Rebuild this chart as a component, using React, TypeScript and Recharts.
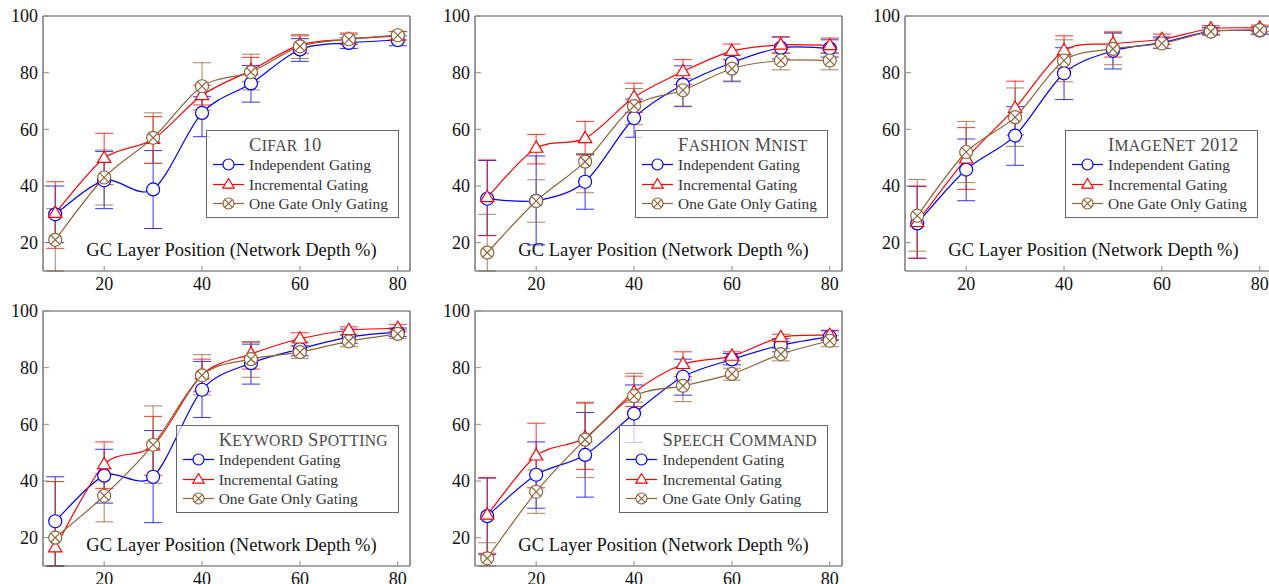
import React from 'react';
import { LineChart, Line, XAxis, YAxis, ErrorBar } from 'recharts';

const FONT = '"Liberation Serif", "Times New Roman", serif';
const BLUE = '#0000ff';
const RED = '#ff0000';
const BROWN = '#8f6439';
const FRAME = '#555555';
const TICK = '#8a8a8a';

const xValues = [10, 20, 30, 40, 50, 60, 70, 80];
const xTicks = [20, 40, 60, 80];
const yTicks = [20, 40, 60, 80, 100];
const yMinorTicks = [12, 16, 24, 28, 32, 36, 44, 48, 52, 56, 64, 68, 72, 76, 84, 88, 92, 96];
const seriesNames = ['Independent Gating', 'Incremental Gating', 'One Gate Only Gating'];
const panelTitles = ['Cifar 10', 'Fashion Mnist', 'ImageNet 2012', 'Keyword Spotting', 'Speech Command'];
const axisTitle = 'GC Layer Position (Network Depth %)';

// Cifar 10
const cifarIndep = [30, 42, 38.8, 65.8, 76.2, 88.2, 90.5, 91.5];
const cifarIndepLo = [20, 32, 25, 57.4, 69.6, 84, 88.5, 89.5];
const cifarIndepHi = [40, 52.2, 52.5, 71.5, 82.5, 92, 92.3, 93];
const cifarIncr = [30.4, 49.8, 56.5, 72, 80.8, 89.8, 91.8, 93];
const cifarIncrLo = [18, 40.5, 48, 68.6, 76.8, 86.8, 90, 91.5];
const cifarIncrHi = [41.5, 58.6, 64.5, 75.6, 85.4, 93, 94, 94.5];
const cifarGate = [21, 43, 57, 75.2, 80.2, 89.3, 91.8, 93.2];
const cifarGateLo = [5, 33.3, 48, 66.8, 73.9, 85, 90, 91.6];
const cifarGateHi = [32, 52.7, 65.8, 83.5, 86.5, 93.5, 93.5, 94.5];

// Fashion Mnist
const fashionIndep = [35.5, 34.8, 41.5, 64, 75.8, 83.5, 88.8, 88.6];
const fashionIndepLo = [22.5, 19.2, 31.8, 57.2, 68, 77, 84.8, 85.5];
const fashionIndepHi = [49, 50.6, 51, 70.7, 82.4, 86.2, 92.6, 91.6];
const fashionIncr = [36, 53.4, 56.8, 71.3, 80.4, 87.6, 89.8, 89.6];
const fashionIncrLo = [22.5, 47.8, 51.2, 66, 75.8, 84.5, 87, 87];
const fashionIncrHi = [49.2, 58.2, 62.8, 76.3, 84.6, 90.1, 92.6, 92.2];
const fashionGate = [16.5, 34.7, 48.6, 68.2, 73.8, 81.4, 84.3, 84.3];
const fashionGateLo = [8, 27.2, 37.6, 61.6, 68.2, 76.8, 81, 81];
const fashionGateHi = [30, 42.2, 51.4, 74.4, 78, 84.8, 86.8, 86.8];

// ImageNet 2012
const imagenetIndep = [26.8, 45.8, 57.8, 79.8, 87.7, 90.6, 94.6, 94.9];
const imagenetIndepLo = [14.5, 34.8, 47.3, 70.5, 81.3, 88.6, 93.4, 93.6];
const imagenetIndepHi = [39.8, 56.6, 68, 88.8, 94, 92.6, 96, 96.2];
const imagenetIncr = [27.2, 49.6, 67.5, 87.8, 90.2, 91.8, 95.5, 95.8];
const imagenetIncrLo = [14.5, 38.8, 58, 81.6, 85.5, 90, 94.4, 94.6];
const imagenetIncrHi = [40, 60.6, 77, 93, 94.4, 93.6, 96.6, 96.8];
const imagenetGate = [29.5, 52, 64.3, 84.3, 88.4, 90.3, 94.5, 95];
const imagenetGateLo = [17, 41.2, 54, 76.8, 82.8, 88.5, 93.2, 93.6];
const imagenetGateHi = [42.3, 62.8, 74.6, 91.6, 94, 92.2, 95.8, 96.2];

// Keyword Spotting
const keywordIndep = [25.8, 41.9, 41.5, 72.2, 81.6, 86.6, 90.8, 92.5];
const keywordIndepLo = [9.8, 32.2, 25.3, 62.4, 74.2, 84.2, 88.6, 91];
const keywordIndepHi = [41.5, 51.2, 57.8, 82.2, 88.3, 89, 93.6, 94];
const keywordIncr = [16.5, 45.8, 52.5, 77.5, 84.8, 90.2, 93.2, 93.9];
const keywordIncrLo = [6, 37.4, 42, 71.5, 79.5, 87.8, 91.6, 92.8];
const keywordIncrHi = [39.8, 53.8, 62.8, 83, 89, 92.3, 94.4, 95.3];
const keywordGate = [20, 34.8, 52.8, 77.3, 83, 85.5, 89.3, 91.9];
const keywordGateLo = [6, 25.6, 39.2, 70.4, 76.6, 83.3, 87.4, 90.3];
const keywordGateHi = [39.8, 42.6, 66.5, 84.6, 89.2, 87.5, 91.4, 93.5];

// Speech Command
const speechIndep = [27.6, 42.2, 49.2, 63.8, 76.8, 82.9, 87.9, 90.9];
const speechIndepLo = [14, 30.4, 34.3, 53.6, 70.3, 81, 85.6, 89.6];
const speechIndepHi = [41, 53.8, 64.2, 73.9, 83, 85, 90.2, 93.2];
const speechIncr = [28, 48.9, 55.3, 71.3, 81.2, 84.1, 90.7, 91.5];
const speechIncrLo = [14.5, 37.6, 44.1, 66.3, 76.8, 82.6, 89.2, 89.8];
const speechIncrHi = [41.2, 60.4, 67.5, 77, 85.6, 85.6, 91.8, 93];
const speechGate = [12.7, 36.2, 54.6, 70, 73.6, 77.8, 84.8, 89.5];
const speechGateLo = [6, 28.6, 41.2, 67.8, 68, 75.6, 82.4, 87.4];
const speechGateHi = [18.2, 43.9, 67.8, 78, 75.6, 79.8, 86.8, 91.3];

const panelSeries = [
  [[cifarIndep, cifarIndepLo, cifarIndepHi], [cifarIncr, cifarIncrLo, cifarIncrHi], [cifarGate, cifarGateLo, cifarGateHi]],
  [[fashionIndep, fashionIndepLo, fashionIndepHi], [fashionIncr, fashionIncrLo, fashionIncrHi], [fashionGate, fashionGateLo, fashionGateHi]],
  [[imagenetIndep, imagenetIndepLo, imagenetIndepHi], [imagenetIncr, imagenetIncrLo, imagenetIncrHi], [imagenetGate, imagenetGateLo, imagenetGateHi]],
  [[keywordIndep, keywordIndepLo, keywordIndepHi], [keywordIncr, keywordIncrLo, keywordIncrHi], [keywordGate, keywordGateLo, keywordGateHi]],
  [[speechIndep, speechIndepLo, speechIndepHi], [speechIncr, speechIncrLo, speechIncrHi], [speechGate, speechGateLo, speechGateHi]],
];

const seriesColors = [BLUE, RED, BROWN];
const seriesMarks = ['circle', 'triangle', 'otimes'];

// layout
const CW = 420;
const CH = 295;
const PLOT_L = 43;
const PLOT_R_MARGIN = 10;
const PLOT_T = 16;
const XAXIS_H = 24;
const X_DOMAIN = [7.5, 82.5];
const Y_DOMAIN = [10, 100];
const panelPos = [
  { left: 0, top: 0 },
  { left: 432, top: 0 },
  { left: 862, top: 0 },
  { left: 0, top: 295 },
  { left: 432, top: 295 },
];
const legendRightGap = [11, 14, 14, 11, 14];

// cardinal spline like TikZ "smooth" (tension 0.55)
const makeCardinal = (k: number) => (context: any) => {
  let pts: number[][] = [];
  return {
    areaStart() {},
    areaEnd() {},
    lineStart() {
      pts = [];
    },
    point(x: number, y: number) {
      pts.push([+x, +y]);
    },
    lineEnd() {
      const n = pts.length;
      if (!n) return;
      context.moveTo(pts[0][0], pts[0][1]);
      for (let i = 0; i < n - 1; i++) {
        const p0 = pts[Math.max(i - 1, 0)];
        const p1 = pts[i];
        const p2 = pts[i + 1];
        const p3 = pts[Math.min(i + 2, n - 1)];
        context.bezierCurveTo(
          p1[0] + (p2[0] - p0[0]) * k,
          p1[1] + (p2[1] - p0[1]) * k,
          p2[0] - (p3[0] - p1[0]) * k,
          p2[1] - (p3[1] - p1[1]) * k,
          p2[0],
          p2[1]
        );
      }
    },
  };
};
const smoothCurve = makeCardinal(0.15);

function Marker({ kind, color, cx, cy, r }: { kind: string; color: string; cx: number; cy: number; r: number }) {
  if (kind === 'circle') {
    return <circle cx={cx} cy={cy} r={r} fill="#fff" stroke={color} strokeWidth={1.2} />;
  }
  if (kind === 'triangle') {
    const h = r * 1.08;
    const pts = `${cx},${cy - h} ${cx - h * 0.95},${cy + h * 0.6} ${cx + h * 0.95},${cy + h * 0.6}`;
    return <polygon points={pts} fill="#fff" stroke={color} strokeWidth={1.2} />;
  }
  const d = r * 0.7071;
  return (
    <g>
      <circle cx={cx} cy={cy} r={r} fill="#fff" stroke={color} strokeWidth={1.2} />
      <line x1={cx - d} y1={cy - d} x2={cx + d} y2={cy + d} stroke={color} strokeWidth={1.2} />
      <line x1={cx - d} y1={cy + d} x2={cx + d} y2={cy - d} stroke={color} strokeWidth={1.2} />
    </g>
  );
}

function buildRows(series: number[][][]) {
  return xValues.map((x, i) => {
    const row: any = { x };
    series.forEach((s, si) => {
      const [mean, lo, hi] = s;
      // error bars are clipped to the visible plot range, as in the original figure
      const shownLo = Math.max(lo[i], Y_DOMAIN[0]);
      const shownHi = Math.min(hi[i], Y_DOMAIN[1]);
      row[`v${si}`] = mean[i];
      row[`e${si}`] = [mean[i] - shownLo, shownHi - mean[i]];
    });
    return row;
  });
}

// LaTeX-like small caps: upper-case letters and digits full size, lower-case letters as smaller capitals
function SmallCaps({ text }: { text: string }) {
  const parts: { t: string; small: boolean }[] = [];
  for (const ch of text) {
    const small = ch !== ch.toUpperCase();
    const last = parts[parts.length - 1];
    if (last && last.small === small) last.t += small ? ch.toUpperCase() : ch;
    else parts.push({ t: small ? ch.toUpperCase() : ch, small });
  }
  return (
    <>
      {parts.map((p, i) => (
        <span key={i} style={{ fontSize: p.small ? '0.85em' : '1em' }}>
          {p.t}
        </span>
      ))}
    </>
  );
}

function Legend({ title, rightGap }: { title: string; rightGap: number }) {
  return (
    <div
      style={{
        position: 'absolute',
        top: PLOT_T + 114,
        right: PLOT_R_MARGIN + rightGap,
        border: '1px solid #666',
        background: 'rgba(255,255,255,0.72)',
        padding: '4px 10px 4px 6px',
        fontFamily: FONT,
        boxSizing: 'border-box',
        height: 88,
      }}
    >
      <div
        style={{
          marginLeft: 36,
          fontSize: 18.5,
          lineHeight: '20px',
          height: 20,
          letterSpacing: 0.3,
          color: '#4a4a4a',
          whiteSpace: 'nowrap',
        }}
      >
        <SmallCaps text={title} />
      </div>
      {seriesNames.map((name, i) => (
        <div key={name} style={{ display: 'flex', alignItems: 'center', height: 19.5 }}>
          <svg width={31} height={19} style={{ display: 'block', marginRight: 5 }}>
            <line x1={0} y1={9.5} x2={31} y2={9.5} stroke={seriesColors[i]} strokeWidth={1.2} />
            <Marker kind={seriesMarks[i]} color={seriesColors[i]} cx={15.5} cy={9.5} r={5.5} />
          </svg>
          <span style={{ fontSize: 15.4, color: '#333', whiteSpace: 'nowrap', lineHeight: '19px' }}>{name}</span>
        </div>
      ))}
    </div>
  );
}

function Panel({ index }: { index: number }) {
  const rows = buildRows(panelSeries[index]);
  const pos = panelPos[index];
  const plotW = CW - PLOT_L - PLOT_R_MARGIN;
  return (
    <div style={{ position: 'absolute', left: pos.left, top: pos.top, width: CW, height: CH }}>
      <LineChart
        width={CW}
        height={CH}
        data={rows}
        margin={{ top: PLOT_T, right: PLOT_R_MARGIN, left: 0, bottom: 0 }}
        style={{ fontFamily: FONT }}
      >
        <XAxis
          xAxisId="b"
          dataKey="x"
          type="number"
          domain={X_DOMAIN}
          allowDataOverflow
          ticks={xTicks}
          interval={0}
          height={XAXIS_H}
          tickSize={-5}
          tickMargin={11}
          axisLine={{ stroke: FRAME, strokeWidth: 1.2 }}
          tickLine={{ stroke: TICK }}
          tick={{ fill: '#111', fontSize: 18, fontFamily: FONT }}
        />
        <XAxis
          xAxisId="t"
          orientation="top"
          type="number"
          domain={X_DOMAIN}
          allowDataOverflow
          ticks={xTicks}
          interval={0}
          mirror
          height={0.01}
          tickSize={5}
          tick={false}
          axisLine={{ stroke: FRAME, strokeWidth: 1.2 }}
          tickLine={{ stroke: TICK }}
        />
        <YAxis
          yAxisId="l"
          type="number"
          domain={Y_DOMAIN}
          allowDataOverflow
          ticks={yTicks}
          interval={0}
          width={PLOT_L}
          tickSize={-6}
          tickMargin={11}
          axisLine={{ stroke: FRAME, strokeWidth: 1.2 }}
          tickLine={{ stroke: TICK }}
          tick={{ fill: '#111', fontSize: 18, fontFamily: FONT }}
        />
        <YAxis
          yAxisId="lm"
          type="number"
          domain={Y_DOMAIN}
          allowDataOverflow
          ticks={yMinorTicks}
          interval={0}
          mirror
          width={0.01}
          tickSize={4}
          tick={false}
          axisLine={false}
          tickLine={{ stroke: TICK }}
        />
        <YAxis
          yAxisId="r"
          orientation="right"
          type="number"
          domain={Y_DOMAIN}
          allowDataOverflow
          ticks={yTicks}
          interval={0}
          mirror
          width={0.01}
          tickSize={6}
          tick={false}
          axisLine={{ stroke: FRAME, strokeWidth: 1.2 }}
          tickLine={{ stroke: TICK }}
        />
        <YAxis
          yAxisId="rm"
          orientation="right"
          type="number"
          domain={Y_DOMAIN}
          allowDataOverflow
          ticks={yMinorTicks}
          interval={0}
          mirror
          width={0.01}
          tickSize={4}
          tick={false}
          axisLine={false}
          tickLine={{ stroke: TICK }}
        />
        {[0, 1, 2].map((si) => (
          <Line
            key={si}
            xAxisId="b"
            yAxisId="l"
            dataKey={`v${si}`}
            name={seriesNames[si]}
            type={smoothCurve as any}
            stroke={seriesColors[si]}
            strokeWidth={1.2}
            isAnimationActive={false}
            dot={(p: any) => (
              <Marker key={`m${si}-${p.index}`} kind={seriesMarks[si]} color={seriesColors[si]} cx={p.cx} cy={p.cy} r={6.5} />
            )}
            activeDot={false}
          >
            <ErrorBar
              dataKey={`e${si}`}
              direction="y"
              width={9}
              stroke={seriesColors[si]}
              strokeWidth={1}
              strokeOpacity={0.8}
              isAnimationActive={false}
            />
          </Line>
        ))}
      </LineChart>
      <div
        style={{
          position: 'absolute',
          left: PLOT_L + 5,
          width: plotW,
          top: PLOT_T + 222,
          textAlign: 'center',
          fontFamily: FONT,
          fontSize: 18.5,
          lineHeight: '24px',
          color: '#111',
          whiteSpace: 'nowrap',
        }}
      >
        {axisTitle}
      </div>
      <Legend title={panelTitles[index]} rightGap={legendRightGap[index]} />
    </div>
  );
}

export default function App() {
  return (
    <div
      style={{
        position: 'absolute',
        left: 0,
        top: 0,
        width: 1269,
        height: 584,
        overflow: 'hidden',
        background: '#fff',
      }}
    >
      {panelTitles.map((t, i) => (
        <Panel key={t} index={i} />
      ))}
    </div>
  );
}
